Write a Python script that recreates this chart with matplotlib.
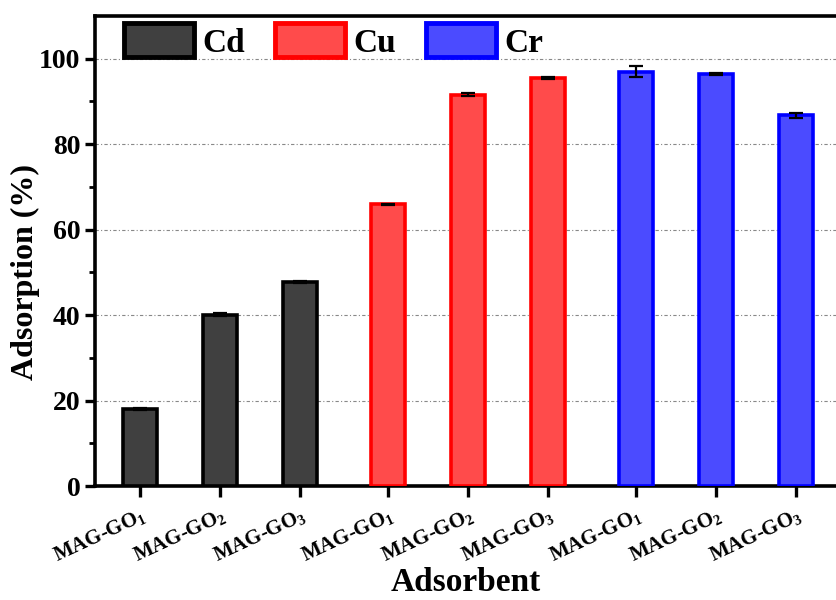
import matplotlib
matplotlib.use("Agg")
import matplotlib.pyplot as plt
import matplotlib.transforms as mtransforms
import numpy as np

plt.rcParams['font.family'] = ['Liberation Serif', 'DejaVu Serif']
plt.rcParams['font.weight'] = 'bold'
plt.rcParams['mathtext.fontset'] = 'custom'
plt.rcParams['mathtext.rm'] = 'Liberation Serif:bold'
plt.rcParams['mathtext.it'] = 'Liberation Serif:bold'
plt.rcParams['mathtext.bf'] = 'Liberation Serif:bold'

metals = ["Cd", "Cu", "Cr"]
adsorbents = ["MAG-GO$_1$", "MAG-GO$_2$", "MAG-GO$_3$"]
cd_values = [18.0, 40.1, 47.8]
cu_values = [65.9, 91.6, 95.5]
cr_values = [97.0, 96.5, 86.8]
cd_err = [0.2, 0.3, 0.2]
cu_err = [0.2, 0.3, 0.2]
cr_err = [1.3, 0.2, 0.6]

face_colors = ["#404040", "#FF4B4B", "#4B4BFF"]
edge_colors = ["#000000", "#FF0000", "#0000FF"]

fig = plt.figure(figsize=(8.36, 6.0), dpi=100)
ax = fig.add_axes([0.1136, 0.19, 0.8864, 0.7833])

group_gap = 0.1
width = 0.42
values = [cd_values, cu_values, cr_values]
errs = [cd_err, cu_err, cr_err]
all_pos = []
for g, (vals, err) in enumerate(zip(values, errs)):
    pos = np.arange(3) + g * (3 + group_gap)
    all_pos.extend(pos)
    ax.bar(pos, vals, width=width, color=face_colors[g], edgecolor=edge_colors[g],
           linewidth=2.6, label=metals[g], zorder=3)
    ax.errorbar(pos, vals, yerr=err, fmt='none', ecolor='black', elinewidth=1.6,
                capsize=5, capthick=1.6, zorder=4)

ax.set_xlim(-0.5625, 8.7)
ax.set_ylim(0, 110)
ax.set_yticks(np.arange(0, 101, 20))
ax.set_yticks(np.arange(10, 101, 20), minor=True)
ax.yaxis.grid(True, which='major', linestyle=(0, (3, 2, 1, 2)), color='#888888', linewidth=0.8, zorder=0)
ax.set_axisbelow(True)

ax.set_xticks(all_pos)
ax.set_xticklabels(adsorbents * 3, rotation=25, ha='right', rotation_mode='anchor', fontsize=15)
shift = mtransforms.ScaledTranslation(8 / 100, 0, fig.dpi_scale_trans)
for lbl in ax.get_xticklabels():
    lbl.set_transform(lbl.get_transform() + shift)

ax.tick_params(axis='y', which='major', direction='out', length=7, width=2.4, labelsize=20)
ax.tick_params(axis='y', which='minor', direction='out', length=4, width=2.0)
ax.tick_params(axis='x', which='major', direction='out', length=8, width=2.4, pad=6)

for side in ['left', 'bottom', 'top']:
    ax.spines[side].set_linewidth(2.6)
ax.spines['right'].set_visible(False)

ax.set_ylabel("Adsorption (%)", fontsize=23, fontweight='bold')
ax.yaxis.set_label_coords(-0.074, 0.455)
ax.set_xlabel("Adsorbent", fontsize=24, fontweight='bold')
ax.xaxis.set_label_coords(0.5, -0.172)

leg = ax.legend(loc='upper left', bbox_to_anchor=(0.012, 1.027), ncol=3, frameon=False,
                fontsize=24, handlelength=2.1, handleheight=1.2, handletextpad=0.25,
                columnspacing=0.9, borderaxespad=0.2)
for h in leg.legend_handles:
    h.set_linewidth(3.5)

fig.savefig("out.png", dpi=100)
